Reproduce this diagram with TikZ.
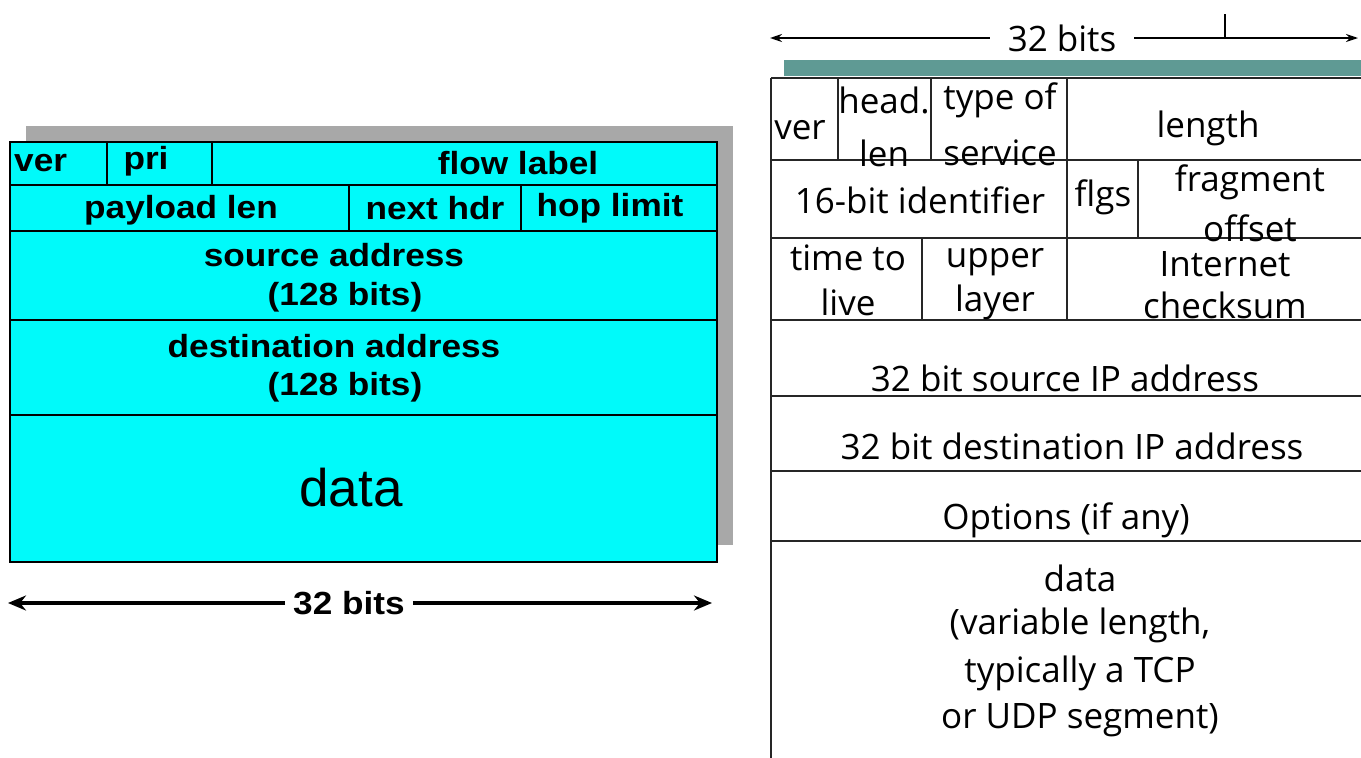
\documentclass[tikz,border=0pt]{standalone}
\usepackage{fontspec}
\setmainfont{Liberation Sans}
\newfontfamily\vsixfont[FakeStretch=1.1]{Liberation Sans}
\newfontfamily\handfont{Open Sans}
\usetikzlibrary{arrows.meta}
\definecolor{pktcyan}{HTML}{00FAFA}
\definecolor{pktshadow}{HTML}{A8A8A8}
\definecolor{pktteal}{HTML}{5F9A94}
\begin{document}
\begin{tikzpicture}[x=1pt,y=-1pt,
  vsixline/.style={line width=2.6pt,black},
  vsixtext/.style={font=\vsixfont\fontsize{32}{34}\selectfont\bfseries,inner sep=0pt},
  vsixbig/.style={font=\fontsize{53}{56}\selectfont,inner sep=0pt},
  vfourline/.style={line width=1.8pt,black!85},
  vfourtext/.style={font=\handfont\fontsize{35}{38}\selectfont,inner sep=0pt},
  dimline/.style={line width=3.2pt,black},
  thindim/.style={line width=1.6pt,black},
]
\useasboundingbox (0,0) rectangle (1361,758);

% ---------------- IPv6 header ----------------
\fill[pktshadow] (26,126) rectangle (733,545);
\fill[pktcyan] (10,142) rectangle (717,562);
\draw[vsixline] (10,142) rectangle (717,562);
\draw[vsixline] (10,185) -- (717,185);
\draw[vsixline] (10,231) -- (717,231);
\draw[vsixline] (10,320) -- (717,320);
\draw[vsixline] (10,415) -- (717,415);
\draw[vsixline] (107,142) -- (107,185);
\draw[vsixline] (212,142) -- (212,185);
\draw[vsixline] (349,185) -- (349,231);
\draw[vsixline] (521,185) -- (521,231);

\node[vsixtext,anchor=west] (ver6) at (14,163) {ver};
\node[vsixtext] (pri) at (146,161) {pri};
\node[vsixtext] (flow) at (518,163) {flow label};
\node[vsixtext] (plen) at (181,210) {payload len};
\node[vsixtext] (nhdr) at (435,208) {next hdr};
\node[vsixtext] (hop) at (610,208) {hop limit};
\node[vsixtext] (src6a) at (334,255) {source address};
\node[vsixtext] (src6b) at (345,297) {(128 bits)};
\node[vsixtext] (dst6a) at (334,346) {destination address};
\node[vsixtext] (dst6b) at (345,387) {(128 bits)};
\node[vsixbig] (data6) at (351,488) {data};

% width marker below the IPv6 header
\node[vsixtext,fill=white,inner xsep=8pt] (bits6) at (349,603) {32 bits};
\coordinate (l6) at (8,603);
\coordinate (r6) at (712,603);
\draw[dimline,-{Stealth[length=18pt,width=15pt]}] (bits6.west) -- (l6);
\draw[dimline,-{Stealth[length=18pt,width=15pt]}] (bits6.east) -- (r6);

% ---------------- IPv4 header ----------------
\fill[pktteal] (784,60) rectangle (1361,76);
\draw[vfourline] (771,78) -- (1361,78);
\draw[vfourline] (771,160) -- (1361,160);
\draw[vfourline] (771,238) -- (1361,238);
\draw[vfourline] (771,320) -- (1361,320);
\draw[vfourline] (771,396) -- (1361,396);
\draw[vfourline] (771,471) -- (1361,471);
\draw[vfourline] (771,541) -- (1361,541);
\draw[vfourline] (771,78) -- (771,758);
\draw[vfourline] (838,78) -- (838,160);
\draw[vfourline] (931,78) -- (931,160);
\draw[vfourline] (1067,78) -- (1067,320);
\draw[vfourline] (1138,160) -- (1138,238);
\draw[vfourline] (922,238) -- (922,320);

\node[vfourtext] (ver4) at (800,130) {ver};
\node[vfourtext] (hla) at (884,100) {head.};
\node[vfourtext] (hlb) at (884,153) {len};
\node[vfourtext] (tosa) at (1000,100) {type of};
\node[vfourtext] (tosb) at (1000,153) {service};
\node[vfourtext] (len4) at (1208,128) {length};
\node[vfourtext] (ident) at (920,200) {16-bit identifier};
\node[vfourtext] (flgs) at (1103,197) {flgs};
\node[vfourtext] (fraga) at (1250,182) {fragment};
\node[vfourtext] (fragb) at (1250,228) {offset};
\node[vfourtext] (ttla) at (848,258) {time to};
\node[vfourtext] (ttlb) at (848,302) {live};
\node[vfourtext] (upa) at (995,262) {upper};
\node[vfourtext] (upb) at (995,302) {layer};
\node[vfourtext] (cksa) at (1225,264) {Internet};
\node[vfourtext] (cksb) at (1225,305) {checksum};
\node[vfourtext] (src4) at (1065,378) {32 bit source IP address};
\node[vfourtext] (dst4) at (1072,446) {32 bit destination IP address};
\node[vfourtext] (opts) at (1066,520) {Options (if any)};
\node[vfourtext] (da) at (1080,578) {data};
\node[vfourtext] (db) at (1080,625) {(variable length,};
\node[vfourtext] (dc) at (1080,673) {typically a TCP};
\node[vfourtext] (dd) at (1080,720) {or UDP segment)};

% width marker above the IPv4 header
\node[vfourtext,fill=white,inner xsep=18pt] (bits4) at (1062,38) {32 bits};
\coordinate (l4) at (770,38);
\coordinate (r4) at (1358,38);
\coordinate (tickb) at (1225,38);
\coordinate (tickt) at (1225,14);
\draw[thindim,-{Stealth[length=12pt,width=8pt]}] (bits4.west) -- (l4);
\draw[thindim,-{Stealth[length=12pt,width=8pt]}] (bits4.east) -- (r4);
\draw[thindim] (tickb) -- (tickt);
\end{tikzpicture}
\end{document}
